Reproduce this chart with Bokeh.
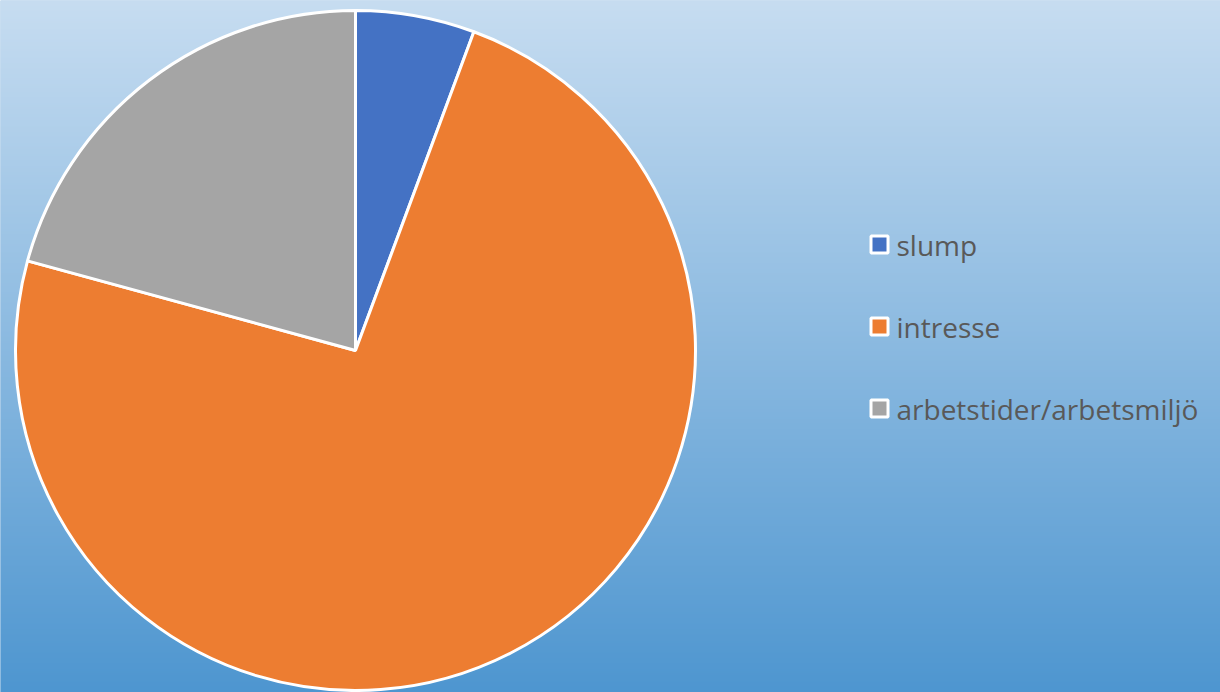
import numpy as np
from bokeh.plotting import figure
from bokeh.models import Range1d, ColumnDataSource
from bokeh.core.properties import value
from bokeh.embed import file_html
from bokeh.resources import INLINE

# ---- data ----
categories = ["slump", "intresse", "arbetstider/arbetsmiljö"]
values = [3, 39, 11]
colors = ["#4472C4", "#ED7D31", "#A5A5A5"]

W, H = 1220, 692
p = figure(width=W, height=H, output_backend="svg", toolbar_location=None,
           x_range=Range1d(0, W), y_range=Range1d(0, H), min_border=0)
p.axis.visible = False
p.grid.visible = False
p.outline_line_color = None
p.background_fill_color = "#9dc4e5"
p.border_fill_color = "#9dc4e5"

# ---- vertical gradient background ----
top = np.array([199, 221, 241], dtype=float)
bot = np.array([78, 150, 208], dtype=float)
rows = np.arange(H) + 0.5
py = H - rows                # pixel y (from top) of each row
t = np.clip(py / float(H), 0, 1)[:, None]
rgb = top * (1 - t) + bot * t
img = np.empty((H, 1), dtype=np.uint32)
view = img.view(dtype=np.uint8).reshape((H, 1, 4))
view[:, 0, 0] = rgb[:, 0].astype(np.uint8)
view[:, 0, 1] = rgb[:, 1].astype(np.uint8)
view[:, 0, 2] = rgb[:, 2].astype(np.uint8)
view[:, 0, 3] = 255
p.image_rgba(image=[img], x=-2, y=0, dw=W + 4, dh=H)

# ---- pie ----
vals = np.array(values, dtype=float)
frac = vals / vals.sum()
cum = np.concatenate([[0], np.cumsum(frac)])
start = np.pi / 2 - cum[:-1] * 2 * np.pi
end = np.pi / 2 - cum[1:] * 2 * np.pi
src = ColumnDataSource(dict(start=start, end=end, color=colors, cat=categories))
cx, cy, r = 355, 342, 340
p.wedge(x=cx, y=cy, radius=r, start_angle="start", end_angle="end",
        direction="clock", fill_color="color", line_color="white",
        line_width=3, source=src)

# ---- legend ----
n = len(categories)
ly = [448 - 82 * i for i in range(n)]
lsrc = ColumnDataSource(dict(x=[879] * n, tx=[896] * n, y=ly,
                             color=colors, cat=categories))
p.scatter(x="x", y="y", marker="square", size=17, fill_color="color",
          line_color="white", line_width=3, source=lsrc)
p.text(x="tx", y="y", text="cat", source=lsrc, text_font=value("Open Sans"),
       text_font_size="28px", text_color="#595959", text_baseline="middle",
       text_align="left")

open("out.html", "w").write(file_html(p, INLINE))
